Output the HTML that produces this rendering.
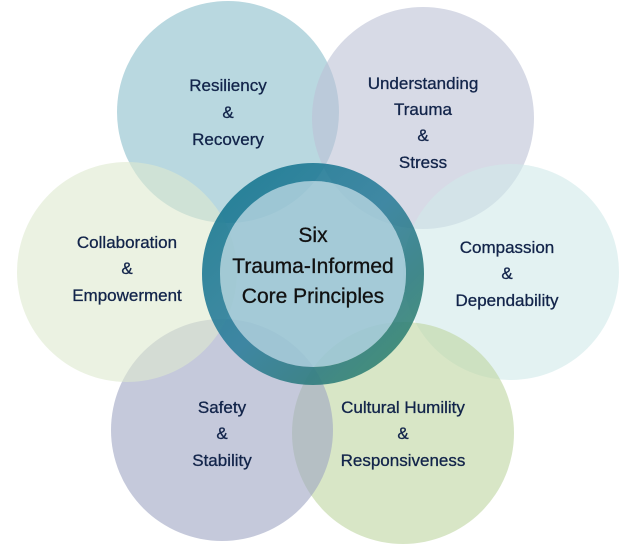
<!DOCTYPE html>
<html><head><meta charset="utf-8"><style>
html,body{margin:0;padding:0;background:#fff;}
svg{display:block;}
text{font-family:"Liberation Sans",sans-serif;}
</style></head><body>
<svg width="619" height="544" viewBox="0 0 619 544" xmlns="http://www.w3.org/2000/svg">
<defs>
<linearGradient id="rg" x1="0" y1="0" x2="1" y2="1">
<stop offset="0" stop-color="#13768f"/>
<stop offset="0.5" stop-color="#2f7f9c"/>
<stop offset="0.75" stop-color="#2f7c80"/>
<stop offset="1" stop-color="#378a6c"/>
</linearGradient>
</defs>
<rect width="619" height="544" fill="#fff"/>
<g fill-opacity="0.6">
<circle cx="228" cy="112" r="111" fill="#8abecb"/>
<circle cx="423" cy="118" r="111" fill="#bcc1d5"/>
<circle cx="511" cy="272" r="108" fill="#d0e9e9"/>
<circle cx="403" cy="433" r="111" fill="#bed5a0"/>
<circle cx="222" cy="430" r="111" fill="#9ea5c3"/>
<circle cx="127" cy="272" r="110" fill="#dee9cf"/>
</g>
<circle cx="313" cy="274" r="93" fill="#9ac4d3" opacity="0.9"/>
<circle cx="313" cy="274" r="102" fill="none" stroke="url(#rg)" stroke-width="18" opacity="0.9"/>
<g font-size="17" fill="#12244a" text-anchor="middle" stroke="#12244a" stroke-width="0.3">
<text x="228" y="91">Resiliency</text>
<text x="228" y="118">&amp;</text>
<text x="228" y="145">Recovery</text>
<text x="423" y="89">Understanding</text>
<text x="423" y="115">Trauma</text>
<text x="423" y="141">&amp;</text>
<text x="423" y="168">Stress</text>
<text x="507" y="253">Compassion</text>
<text x="507" y="279">&amp;</text>
<text x="507" y="306">Dependability</text>
<text x="403" y="413">Cultural Humility</text>
<text x="403" y="439">&amp;</text>
<text x="403" y="466">Responsiveness</text>
<text x="222" y="413">Safety</text>
<text x="222" y="439">&amp;</text>
<text x="222" y="466">Stability</text>
<text x="127" y="248">Collaboration</text>
<text x="127" y="274">&amp;</text>
<text x="127" y="301">Empowerment</text>
</g>
<g font-size="21" fill="#111" text-anchor="middle" stroke="#111" stroke-width="0.3">
<text x="313" y="242">Six</text>
<text x="313" y="273">Trauma-Informed</text>
<text x="313" y="303">Core Principles</text>
</g>
</svg>
</body></html>
